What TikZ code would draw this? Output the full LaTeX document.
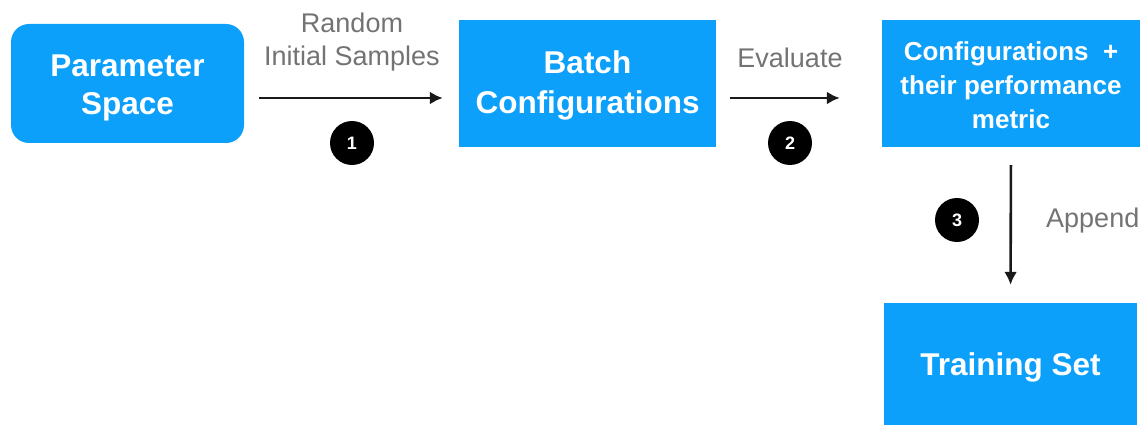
\documentclass[tikz,border=0pt]{standalone}
\usepackage{fontspec}
\setmainfont{Liberation Sans}
\usetikzlibrary{arrows.meta}
\definecolor{boxblue}{RGB}{12,160,250}
\definecolor{labelgray}{RGB}{115,115,115}
\definecolor{arrowdark}{RGB}{25,25,25}
\tikzset{
  bluebox/.style={fill=boxblue, draw=none, inner sep=0pt},
  boxtext/.style={text=white, align=center, inner sep=0pt},
  numdot/.style={circle, fill=black, text=white, minimum size=44pt, inner sep=0pt, font=\fontsize{18}{18}\selectfont\bfseries},
  steplabel/.style={text=labelgray, align=center, inner sep=0pt, font=\fontsize{27}{33}\selectfont},
  flow/.style={draw=arrowdark, line width=2.6pt, -{Latex[length=13pt,width=13pt]}}
}
\begin{document}
\begin{tikzpicture}[x=1pt,y=-1pt]
\useasboundingbox (0,0) rectangle (1146,425);
\node[bluebox, rounded corners=18pt, minimum width=233pt, minimum height=119pt] (param) at (127.5,83.5) {};
\node[boxtext, yshift=-4pt, font=\fontsize{31.5}{38}\selectfont\bfseries] (paramtxt) at (param.center) {Parameter\\Space};
\node[bluebox, minimum width=257pt, minimum height=127pt] (batch) at (587.5,83.5) {};
\node[boxtext, yshift=-2pt, font=\fontsize{31.5}{40}\selectfont\bfseries] (batchtxt) at (batch.center) {Batch\\Configurations};
\node[bluebox, minimum width=258pt, minimum height=127pt] (conf) at (1011,83.5) {};
\node[boxtext, yshift=-2pt, font=\fontsize{26}{34}\selectfont\bfseries] (conftxt) at (conf.center) {Configurations\ \ +\\their performance\\metric};
\node[bluebox, minimum width=253pt, minimum height=128pt] (train) at (1010.5,367) {};
\node[boxtext, font=\fontsize{31.5}{36}\selectfont\bfseries] (traintxt) at (train.center) {Training Set};

\draw[flow, shorten <=15pt, shorten >=16pt] ([yshift=-14.5pt]param.east) -- ([yshift=-14.5pt]batch.west);
\draw[flow, shorten <=14pt, shorten >=42pt] ([yshift=-14.5pt]batch.east) -- ([yshift=-14.5pt]conf.west);
\draw[flow, shorten <=18pt, shorten >=18pt] (conf.south) -- (train.north);

\node[steplabel] (l1) at (352,42) {Random\\Initial Samples};
\node[steplabel] (l2) at (790,58) {Evaluate};
\node[steplabel, anchor=west] (l3) at (1046,221) {Append};

\node[numdot] (n1) at (352,143) {1};
\node[numdot] (n2) at (790,143) {2};
\node[numdot] (n3) at (957,220) {3};
\end{tikzpicture}
\end{document}
